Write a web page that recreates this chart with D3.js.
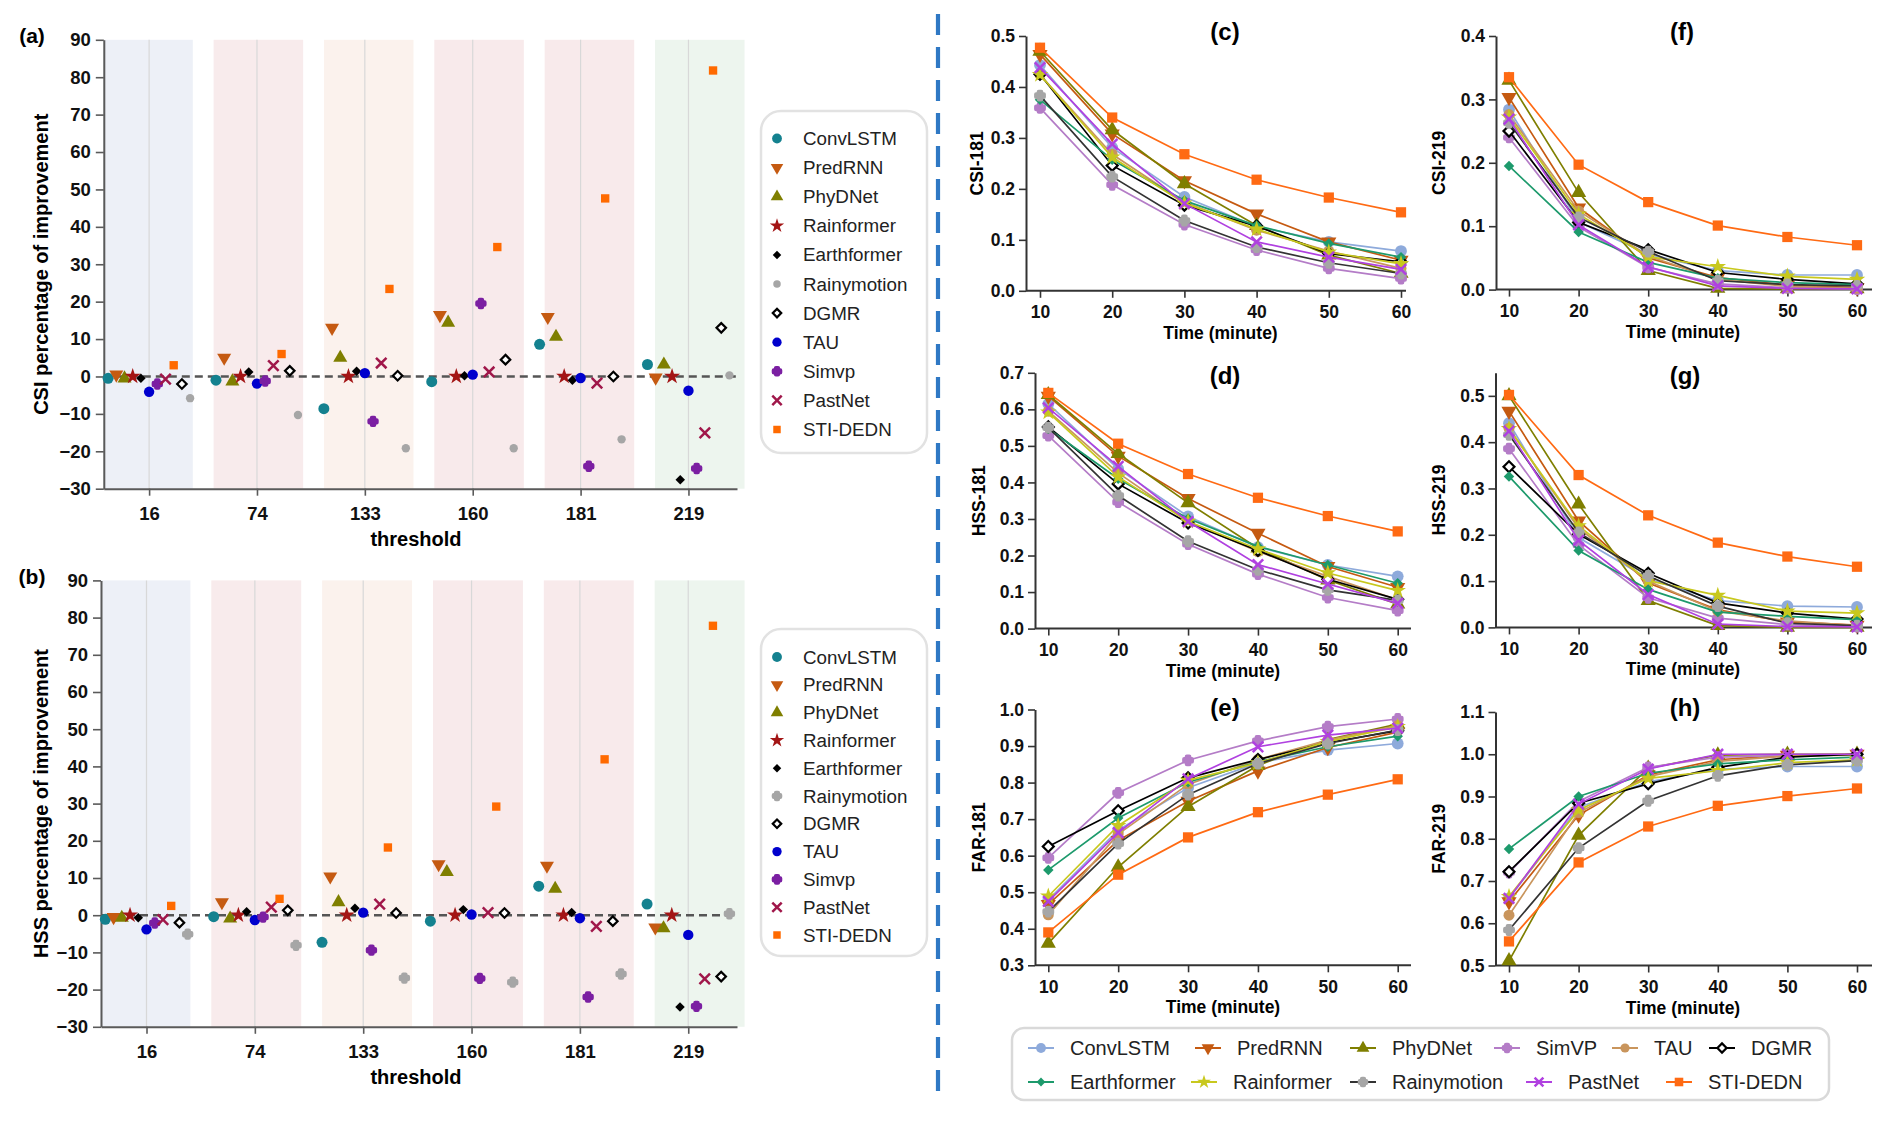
<!DOCTYPE html>
<html>
<head>
<meta charset="utf-8">
<script src="https://cdn.jsdelivr.net/npm/d3@7"></script>
<style>
  body { margin: 0; background: #fff; }
  svg { font-family: "Liberation Sans", Arial, Helvetica, sans-serif; }
</style>
</head>
<body>
<svg id="chart" width="1892" height="1122"></svg>
<script>
// ---------- data: percentage of improvement (panels a, b) ----------
const thresholds = ['16', '74', '133', '160', '181', '219'];
const improveModels = ['ConvLSTM', 'PredRNN', 'PhyDNet', 'Rainformer', 'Earthformer', 'Rainymotion', 'DGMR', 'TAU', 'Simvp', 'PastNet', 'STI-DEDN'];
// order of the markers inside each threshold group (left to right)
const groupOrder = ['ConvLSTM', 'PredRNN', 'PhyDNet', 'Rainformer', 'Earthformer', 'TAU', 'Simvp', 'PastNet', 'STI-DEDN', 'DGMR', 'Rainymotion'];
const improveTicks = [-30, -20, -10, 0, 10, 20, 30, 40, 50, 60, 70, 80, 90];

// rows follow improveModels, columns follow thresholds
const csiImprove = [
  [-0.5, -1.0, -8.6, -1.4, 8.6, 3.2],
  [0.5, 5.0, 13.0, 16.4, 15.9, -0.3],
  [-0.5, -1.3, 5.0, 14.4, 10.6, 3.2],
  [0, 0, 0, 0, 0, 0],
  [-0.5, 1.2, 1.4, 0.2, -1.0, -27.6],
  [-5.8, -10.3, -19.2, -19.2, -16.8, 0.3],
  [-2.0, 1.5, 0.2, 4.5, 0.0, 13.0],
  [-4.1, -1.9, 0.9, 0.5, -0.4, -3.8],
  [-2.0, -1.2, -12.0, 19.5, -24.0, -24.6],
  [-0.7, 2.9, 3.6, 1.2, -1.8, -15.1],
  [3.0, 6.0, 23.4, 34.6, 47.6, 81.8]
];
const hssImprove = [
  [-1.1, -0.4, -7.3, -1.6, 7.8, 3.0],
  [-0.5, 3.5, 10.4, 13.7, 13.3, -3.3],
  [-0.7, -0.9, 3.5, 11.6, 7.1, -3.5],
  [0, 0, 0, 0, 0, 0],
  [-0.7, 0.9, 1.9, 1.5, 0.7, -24.7],
  [-5.1, -8.1, -16.9, -18.0, -15.8, 0.4],
  [-2.0, 1.3, 0.6, 0.6, -1.6, -16.5],
  [-3.8, -1.3, 0.7, 0.2, -0.8, -5.3],
  [-2.1, -0.5, -9.4, -17.0, -22.0, -24.5],
  [-1.2, 2.2, 3.0, 0.7, -3.0, -17.1],
  [2.5, 4.4, 18.2, 29.2, 41.9, 77.8]
];

// ---------- data: scores over lead time (panels c-h) ----------
const minutes = [10, 20, 30, 40, 50, 60];
const lineModels = ['ConvLSTM', 'PredRNN', 'PhyDNet', 'SimVP', 'TAU', 'DGMR', 'Earthformer', 'Rainformer', 'Rainymotion', 'PastNet', 'STI-DEDN'];

const csi181 = [
  [0.443, 0.281, 0.184, 0.126, 0.096, 0.078],
  [0.464, 0.308, 0.216, 0.151, 0.096, 0.060],
  [0.470, 0.316, 0.210, 0.128, 0.070, 0.034],
  [0.359, 0.208, 0.130, 0.080, 0.044, 0.024],
  [0.424, 0.268, 0.174, 0.119, 0.078, 0.044],
  [0.425, 0.246, 0.168, 0.127, 0.073, 0.057],
  [0.375, 0.257, 0.177, 0.128, 0.093, 0.066],
  [0.424, 0.262, 0.172, 0.121, 0.076, 0.053],
  [0.383, 0.224, 0.138, 0.086, 0.055, 0.034],
  [0.438, 0.288, 0.171, 0.096, 0.066, 0.042],
  [0.477, 0.340, 0.268, 0.218, 0.183, 0.154]
];
const csi219 = [
  [0.284, 0.107, 0.056, 0.030, 0.023, 0.023],
  [0.303, 0.129, 0.050, 0.019, 0.007, 0.003],
  [0.330, 0.153, 0.030, 0.002, 0.001, 0.001],
  [0.240, 0.099, 0.035, 0.009, 0.003, 0.001],
  [0.276, 0.124, 0.053, 0.016, 0.005, 0.002],
  [0.250, 0.106, 0.063, 0.027, 0.016, 0.009],
  [0.195, 0.091, 0.043, 0.018, 0.011, 0.008],
  [0.272, 0.119, 0.052, 0.036, 0.021, 0.016],
  [0.263, 0.114, 0.060, 0.014, 0.008, 0.006],
  [0.269, 0.102, 0.036, 0.006, 0.002, 0.001],
  [0.335, 0.197, 0.138, 0.101, 0.083, 0.070]
];
const hss181 = [
  [0.615, 0.437, 0.307, 0.223, 0.174, 0.143],
  [0.636, 0.472, 0.356, 0.261, 0.170, 0.113],
  [0.640, 0.479, 0.344, 0.220, 0.133, 0.067],
  [0.528, 0.346, 0.231, 0.149, 0.085, 0.049],
  [0.595, 0.426, 0.293, 0.211, 0.143, 0.079],
  [0.552, 0.396, 0.289, 0.214, 0.135, 0.080],
  [0.547, 0.410, 0.301, 0.225, 0.174, 0.124],
  [0.592, 0.415, 0.293, 0.218, 0.152, 0.104],
  [0.550, 0.364, 0.239, 0.161, 0.106, 0.077],
  [0.604, 0.444, 0.293, 0.175, 0.122, 0.069],
  [0.645, 0.506, 0.423, 0.358, 0.308, 0.266]
];
const hss219 = [
  [0.441, 0.194, 0.105, 0.058, 0.046, 0.044],
  [0.467, 0.230, 0.096, 0.038, 0.012, 0.005],
  [0.500, 0.266, 0.058, 0.004, 0.000, 0.000],
  [0.386, 0.178, 0.064, 0.020, 0.006, 0.002],
  [0.430, 0.214, 0.100, 0.035, 0.014, 0.004],
  [0.347, 0.201, 0.117, 0.053, 0.031, 0.018],
  [0.326, 0.166, 0.082, 0.033, 0.024, 0.017],
  [0.429, 0.219, 0.101, 0.069, 0.035, 0.031],
  [0.416, 0.205, 0.111, 0.046, 0.009, 0.004],
  [0.424, 0.188, 0.071, 0.007, 0.002, 0.001],
  [0.502, 0.329, 0.242, 0.183, 0.153, 0.131]
];
const far181 = [
  [0.479, 0.670, 0.786, 0.854, 0.889, 0.907],
  [0.467, 0.642, 0.749, 0.832, 0.896, 0.938],
  [0.360, 0.569, 0.734, 0.847, 0.918, 0.960],
  [0.594, 0.772, 0.861, 0.914, 0.953, 0.974],
  [0.438, 0.659, 0.795, 0.863, 0.916, 0.956],
  [0.625, 0.723, 0.813, 0.863, 0.909, 0.942],
  [0.561, 0.703, 0.801, 0.857, 0.898, 0.927],
  [0.489, 0.682, 0.806, 0.854, 0.912, 0.953],
  [0.447, 0.633, 0.767, 0.852, 0.907, 0.944],
  [0.475, 0.663, 0.810, 0.898, 0.930, 0.949],
  [0.390, 0.548, 0.650, 0.719, 0.767, 0.809]
];
const far219 = [
  [0.659, 0.874, 0.935, 0.964, 0.971, 0.971],
  [0.651, 0.856, 0.951, 0.987, 0.998, 1.000],
  [0.511, 0.808, 0.967, 0.998, 1.000, 1.000],
  [0.720, 0.888, 0.969, 0.993, 0.997, 0.999],
  [0.619, 0.862, 0.947, 0.983, 0.996, 0.998],
  [0.722, 0.884, 0.930, 0.969, 0.993, 1.000],
  [0.776, 0.900, 0.955, 0.977, 0.987, 0.993],
  [0.663, 0.868, 0.943, 0.961, 0.980, 0.987],
  [0.584, 0.778, 0.890, 0.949, 0.975, 0.985],
  [0.659, 0.882, 0.965, 1.000, 1.000, 1.000],
  [0.557, 0.744, 0.829, 0.878, 0.901, 0.919]
];
const ticksCsi181 = [0, 0.1, 0.2, 0.3, 0.4, 0.5];
const ticksCsi219 = [0, 0.1, 0.2, 0.3, 0.4];
const ticksHss181 = [0, 0.1, 0.2, 0.3, 0.4, 0.5, 0.6, 0.7];
const ticksHss219 = [0, 0.1, 0.2, 0.3, 0.4, 0.5];
const ticksFar181 = [0.3, 0.4, 0.5, 0.6, 0.7, 0.8, 0.9, 1.0];
const ticksFar219 = [0.5, 0.6, 0.7, 0.8, 0.9, 1.0, 1.1];

// ---------- styles ----------
const FONT = '"Liberation Sans", Arial, Helvetica, sans-serif';
const bandColors = ['#edf0f7', '#f8ebec', '#fbf2ed', '#f8eaeb', '#f8eaeb', '#edf5ee'];
const improveStyle = {
  'ConvLSTM':    {shape: 'circle', color: '#14818f', size: 95},
  'PredRNN':     {shape: 'triDown', color: '#c55a11', size: 85},
  'PhyDNet':     {shape: 'triUp', color: '#7f7f00', size: 85},
  'Rainformer':  {shape: 'star', color: '#a31515', size: 80},
  'Earthformer': {shape: 'diamond', color: '#000000', size: 45},
  'Rainymotion': {shape: 'circle', color: '#a6a6a6', size: 55},
  'DGMR':        {shape: 'openDiamond', color: '#000000', size: 45},
  'TAU':         {shape: 'circle', color: '#0000cd', size: 85},
  'Simvp':       {shape: 'blob', color: '#7b1fa2', size: 30},
  'PastNet':     {shape: 'x', color: '#a0174a', size: 110},
  'STI-DEDN':    {shape: 'square', color: '#ff6a00', size: 70}
};
const lineStyle = {
  'ConvLSTM':    {shape: 'circle', color: '#8eaadb', size: 110},
  'PredRNN':     {shape: 'triDown', color: '#c55a11', size: 100},
  'PhyDNet':     {shape: 'triUp', color: '#7f7f00', size: 100},
  'SimVP':       {shape: 'blob', color: '#b47cc7', size: 34},
  'TAU':         {shape: 'circle', color: '#c9955c', size: 95},
  'DGMR':        {shape: 'openDiamond', color: '#000000', size: 60},
  'Earthformer': {shape: 'diamond', color: '#1d9a6c', size: 55},
  'Rainformer':  {shape: 'star', color: '#c8c81e', size: 85},
  'Rainymotion': {shape: 'blob', color: '#a6a6a6', size: 34, line: '#333333'},
  'PastNet':     {shape: 'x', color: '#b041e0', size: 110},
  'STI-DEDN':    {shape: 'square', color: '#ff6a13', size: 105}
};

const svg = d3.select('#chart');

function symbolPath(shape, size) {
  if (shape === 'x') {
    const s = Math.sqrt(size) / 2;
    return `M${-s},${-s}L${s},${s}M${-s},${s}L${s},${-s}`;
  }
  const type = {
    circle: d3.symbolCircle, triUp: d3.symbolTriangle, triDown: d3.symbolTriangle,
    star: d3.symbolStar, diamond: d3.symbolSquare, openDiamond: d3.symbolSquare,
    square: d3.symbolSquare, blob: d3.symbolCross
  }[shape];
  return d3.symbol().type(type).size(size)();
}

function marker(g, st, cx, cy) {
  const rot = st.shape === 'triDown' ? 180 : (st.shape === 'diamond' || st.shape === 'openDiamond') ? 45 : 0;
  const p = g.append('path')
    .attr('d', symbolPath(st.shape, st.size))
    .attr('transform', `translate(${cx},${cy}) rotate(${rot})`);
  if (st.shape === 'x') p.attr('fill', 'none').attr('stroke', st.color).attr('stroke-width', 2.5);
  else if (st.shape === 'openDiamond') p.attr('fill', '#fff').attr('stroke', st.color).attr('stroke-width', 2.2);
  else if (st.shape === 'blob') p.attr('fill', st.color).attr('stroke', st.color).attr('stroke-width', 4).attr('stroke-linejoin', 'round');
  else p.attr('fill', st.color);
  return p;
}

function styleAxis(g, size, color) {
  g.attr('font-family', FONT).attr('font-size', size).attr('font-weight', 'bold');
  g.selectAll('text').attr('fill', '#111');
  g.selectAll('line').attr('stroke', color).attr('stroke-width', 1.6);
  g.select('.domain').attr('stroke', color).attr('stroke-width', 2);
}

// ---------- panels (a), (b) ----------
function drawImprove(cfg, values) {
  const g = svg.append('g');
  const x = d3.scaleLinear().domain([-0.42, 5.45]).range([cfg.left, cfg.right]);
  const y = d3.scaleLinear().domain([-30, 90]).range([cfg.bottom, cfg.top]);

  g.selectAll('rect.band').data(thresholds).join('rect')
    .attr('class', 'band')
    .attr('x', (d, i) => x(-0.425 + i * 1.023))
    .attr('width', x(0.83) - x(0))
    .attr('y', y(90)).attr('height', y(-30) - y(90))
    .attr('fill', (d, i) => bandColors[i]);

  g.selectAll('line.grid').data(thresholds).join('line')
    .attr('class', 'grid')
    .attr('x1', (d, i) => x(i)).attr('x2', (d, i) => x(i))
    .attr('y1', y(90)).attr('y2', y(-30))
    .attr('stroke', '#d8d8d8').attr('stroke-width', 1.2);

  g.append('line')
    .attr('x1', cfg.left).attr('x2', cfg.right)
    .attr('y1', y(0)).attr('y2', y(0))
    .attr('stroke', '#555').attr('stroke-width', 2.6).attr('stroke-dasharray', '8,5');

  const ya = g.append('g').attr('transform', `translate(${cfg.left},0)`)
    .call(d3.axisLeft(y).tickValues(improveTicks).tickSize(8).tickPadding(5).tickSizeOuter(0));
  styleAxis(ya, 18.5, '#5a5a5a');
  const xa = g.append('g').attr('transform', `translate(0,${cfg.bottom})`)
    .call(d3.axisBottom(x).tickValues(d3.range(thresholds.length)).tickFormat(i => thresholds[i])
      .tickSize(7).tickPadding(11).tickSizeOuter(0));
  styleAxis(xa, 18.5, '#5a5a5a');

  const pts = g.append('g');
  improveModels.forEach((m, mi) => {
    const st = Object.assign({}, improveStyle[m], m === 'Rainymotion' ? cfg.rainyStyle : {});
    const j = groupOrder.indexOf(m) - 5;
    values[mi].forEach((v, i) => marker(pts, st, x(i + j * 0.076), y(v)));
  });

  svg.append('text').attr('x', 41).attr('y', (cfg.top + cfg.bottom) / 2)
    .attr('transform', `rotate(-90,41,${(cfg.top + cfg.bottom) / 2})`)
    .attr('text-anchor', 'middle').attr('dominant-baseline', 'central')
    .attr('font-size', 20).attr('font-weight', 'bold').text(cfg.ylabel);
  svg.append('text').attr('x', 416).attr('y', cfg.bottom + 57)
    .attr('text-anchor', 'middle').attr('font-size', 20).attr('font-weight', 'bold').text('threshold');
  svg.append('text').attr('x', 32).attr('y', cfg.tagY)
    .attr('text-anchor', 'middle').attr('dominant-baseline', 'central')
    .attr('font-size', 21).attr('font-weight', 'bold').text(cfg.tag);

  // legend
  const lg = svg.append('g');
  lg.append('rect').attr('x', 761).attr('y', cfg.legTop).attr('width', 166).attr('height', cfg.legH)
    .attr('rx', 20).attr('fill', '#fff').attr('stroke', '#e2e2e2').attr('stroke-width', 2.5);
  improveModels.forEach((m, k) => {
    const st = Object.assign({}, improveStyle[m], m === 'Rainymotion' ? cfg.rainyStyle : {});
    const yy = cfg.legRow0 + k * cfg.legGap;
    marker(lg, Object.assign({}, st, {size: st.size * 0.8}), 777, yy);
    lg.append('text').attr('x', 803).attr('y', yy).attr('dominant-baseline', 'central')
      .attr('font-size', 18.8).attr('fill', '#222').text(m);
  });
}

drawImprove({left: 103.8, right: 737, top: 39.8, bottom: 488.7, tag: '(a)', tagY: 35,
  ylabel: 'CSI percentage of improvement', rainyStyle: {shape: 'circle', size: 55},
  legTop: 111, legH: 342, legRow0: 138.5, legGap: 29.1}, csiImprove);
drawImprove({left: 101, right: 737, top: 580.4, bottom: 1026.8, tag: '(b)', tagY: 576,
  ylabel: 'HSS percentage of improvement', rainyStyle: {shape: 'blob', size: 30},
  legTop: 629, legH: 327, legRow0: 657, legGap: 27.8}, hssImprove);

// ---------- divider ----------
svg.append('line').attr('x1', 938).attr('x2', 938).attr('y1', 14).attr('y2', 1095)
  .attr('stroke', '#2f78c4').attr('stroke-width', 4.2).attr('stroke-dasharray', '21,12');

// ---------- panels (c)-(h) ----------
const linePanels = [
  {tag: '(c)', label: 'CSI-181', values: csi181, domain: [0, 0.5], ticks: ticksCsi181,
    left: 1026, right: 1406, x10: 1040, x60: 1401, top: 36, bottom: 290.8, labelX: 977, titleX: 1225, titleY: 40},
  {tag: '(f)', label: 'CSI-219', values: csi219, domain: [0, 0.4], ticks: ticksCsi219,
    left: 1496, right: 1872, x10: 1509, x60: 1857, top: 36, bottom: 289.6, labelX: 1439, titleX: 1682, titleY: 40},
  {tag: '(d)', label: 'HSS-181', values: hss181, domain: [0, 0.7], ticks: ticksHss181,
    left: 1035, right: 1411, x10: 1048.3, x60: 1397.7, top: 372.8, bottom: 628.6, labelX: 979, titleX: 1225, titleY: 384},
  {tag: '(g)', label: 'HSS-219', values: hss219, domain: [0, 0.55], ticks: ticksHss219,
    left: 1495.5, right: 1872, x10: 1509, x60: 1857, top: 372.7, bottom: 627.4, labelX: 1439, titleX: 1685, titleY: 384},
  {tag: '(e)', label: 'FAR-181', values: far181, domain: [0.3, 1.0], ticks: ticksFar181,
    left: 1035, right: 1411, x10: 1048.3, x60: 1397.7, top: 709.5, bottom: 965.3, labelX: 979, titleX: 1225, titleY: 716},
  {tag: '(h)', label: 'FAR-219', values: far219, domain: [0.5, 1.1], ticks: ticksFar219,
    left: 1495.5, right: 1872, x10: 1509, x60: 1857, top: 712, bottom: 965.5, labelX: 1439, titleX: 1685, titleY: 716}
];

linePanels.forEach(p => {
  const g = svg.append('g');
  const x = d3.scaleLinear().domain([10, 60]).range([p.x10, p.x60]);
  const y = d3.scaleLinear().domain(p.domain).range([p.bottom, p.top]);

  const ya = g.append('g').attr('transform', `translate(${p.left},0)`)
    .call(d3.axisLeft(y).tickValues(p.ticks).tickFormat(d3.format('.1f')).tickSize(7).tickPadding(4).tickSizeOuter(0));
  styleAxis(ya, 17.5, '#333');
  const xa = g.append('g').attr('transform', `translate(0,${p.bottom})`)
    .call(d3.axisBottom(x).tickValues(minutes).tickSize(7).tickPadding(8).tickSizeOuter(0));
  xa.select('.domain').remove();
  styleAxis(xa, 17.5, '#333');
  g.append('line').attr('x1', p.left).attr('x2', p.right).attr('y1', p.bottom).attr('y2', p.bottom)
    .attr('stroke', '#333').attr('stroke-width', 2);

  const line = d3.line().x((d, i) => x(minutes[i])).y(d => y(d));
  lineModels.forEach((m, mi) => {
    const st = lineStyle[m];
    g.append('path').attr('d', line(p.values[mi])).attr('fill', 'none')
      .attr('stroke', st.line || st.color).attr('stroke-width', 1.7);
    p.values[mi].forEach((v, i) => marker(g, st, x(minutes[i]), y(v)));
  });

  svg.append('text').attr('x', p.titleX).attr('y', p.titleY).attr('text-anchor', 'middle')
    .attr('font-size', 24).attr('font-weight', 'bold').text(p.tag);
  const cy = (p.top + p.bottom) / 2;
  svg.append('text').attr('x', p.labelX).attr('y', cy)
    .attr('transform', `rotate(-90,${p.labelX},${cy})`)
    .attr('text-anchor', 'middle').attr('dominant-baseline', 'central')
    .attr('font-size', 17.5).attr('font-weight', 'bold').text(p.label);
  svg.append('text').attr('x', (p.x10 + p.x60) / 2).attr('y', p.bottom + 48)
    .attr('text-anchor', 'middle').attr('font-size', 17.5).attr('font-weight', 'bold').text('Time (minute)');
});

// ---------- bottom legend ----------
const legendSlots = [
  {m: 'ConvLSTM', x: 1041, row: 0}, {m: 'PredRNN', x: 1208, row: 0}, {m: 'PhyDNet', x: 1363, row: 0},
  {m: 'SimVP', x: 1507, row: 0}, {m: 'TAU', x: 1625, row: 0}, {m: 'DGMR', x: 1722, row: 0},
  {m: 'Earthformer', x: 1041, row: 1}, {m: 'Rainformer', x: 1204, row: 1}, {m: 'Rainymotion', x: 1363, row: 1},
  {m: 'PastNet', x: 1539, row: 1}, {m: 'STI-DEDN', x: 1679, row: 1}
];
const bl = svg.append('g');
bl.append('rect').attr('x', 1012).attr('y', 1028).attr('width', 817).attr('height', 72)
  .attr('rx', 12).attr('fill', '#fff').attr('stroke', '#d9d9d9').attr('stroke-width', 2.5);
legendSlots.forEach(s => {
  const st = lineStyle[s.m];
  const yy = 1048 + s.row * 34;
  bl.append('line').attr('x1', s.x - 13).attr('x2', s.x + 13).attr('y1', yy).attr('y2', yy)
    .attr('stroke', st.line || st.color).attr('stroke-width', 2);
  marker(bl, Object.assign({}, st, {size: st.size * 0.7}), s.x, yy);
  bl.append('text').attr('x', s.x + 29).attr('y', yy).attr('dominant-baseline', 'central')
    .attr('font-size', 20).attr('fill', '#222').text(s.m);
});
</script>
</body>
</html>
